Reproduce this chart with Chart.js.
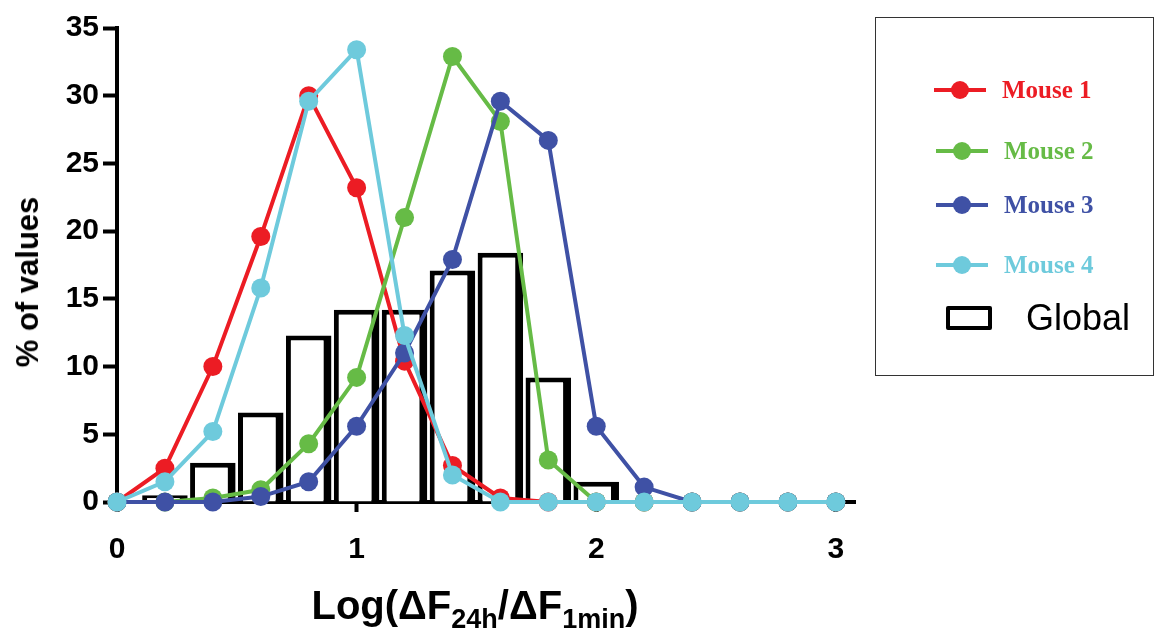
<!DOCTYPE html>
<html>
<head>
<meta charset="utf-8">
<title>% of values</title>
<script src="https://cdn.jsdelivr.net/npm/chart.js@4.4.1/dist/chart.umd.min.js"></script>
<style>
    body { margin: 0; background: #fff; }
    #wrap { position: relative; width: 1154px; height: 632px; overflow: hidden; }
    #grafico { position: absolute; left: 0; top: 0; }
    #legenda {
        position: absolute; left: 875px; top: 17px; width: 279px; height: 359px;
        border: 1px solid #333; box-sizing: border-box;
    }
    .item { position: absolute; height: 30px; display: flex; align-items: center; }
    .amostra { position: relative; width: 52px; height: 30px; }
    .amostra .linha { position: absolute; left: 0; top: 13px; width: 52px; height: 4px; }
    .amostra .ponto { position: absolute; left: 17px; top: 6px; width: 18px; height: 18px; border-radius: 50%; }
    .item .nome {
        font-family: "Liberation Serif", serif; font-weight: bold; font-size: 25px;
        margin-left: 16px; white-space: nowrap;
    }
    #itemGlobal { left: 70px; top: 285px; }
    #itemGlobal .caixa { width: 38px; height: 16px; border: 4px solid #000; border-radius: 2px; }
    #itemGlobal .nome {
        font-family: "Liberation Sans", Arial, sans-serif; font-weight: normal; font-size: 36px;
        color: #000; margin-left: 34px;
    }
    #tituloX {
        position: absolute; left: 0; top: 582px; width: 950px; text-align: center;
        font-family: "Liberation Sans", Arial, sans-serif; font-weight: bold; font-size: 40px;
        line-height: 46px; color: #000;
    }
    #tituloX sub { font-size: 27px; vertical-align: -9px; line-height: 0; }
    #tituloY {
        position: absolute; left: 28px; top: 282px; width: 0; height: 0;
    }
    #tituloY span {
        position: absolute; left: 0; top: 0; transform: translate(-50%, -50%) rotate(-90deg);
        font-family: "Liberation Sans", Arial, sans-serif; font-weight: bold; font-size: 31px;
        white-space: nowrap; color: #000;
    }
</style>
</head>
<body>
<div id="wrap">
    <canvas id="grafico" width="1154" height="632"></canvas>
    <div id="legenda"></div>
    <div id="tituloY"><span>% of values</span></div>
    <div id="tituloX">Log(&Delta;F<sub>24h</sub>/&Delta;F<sub>1min</sub>)</div>
</div>
<script>
// dados
const valoresX = [0, 0.2, 0.4, 0.6, 0.8, 1.0, 1.2, 1.4, 1.6, 1.8, 2.0, 2.2, 2.4, 2.6, 2.8, 3.0];
const mouse1 = [0, 2.5, 10.0, 19.6, 30.0, 23.2, 10.4, 2.7, 0.3, 0, 0, 0, 0, 0, 0, 0];
const mouse2 = [0, 0, 0.3, 0.9, 4.3, 9.2, 21.0, 32.9, 28.1, 3.1, 0, 0, 0, 0, 0, 0];
const mouse3 = [0, 0, 0, 0.4, 1.5, 5.6, 11.0, 17.9, 29.6, 26.7, 5.6, 1.1, 0, 0, 0, 0];
const mouse4 = [0, 1.5, 5.2, 15.8, 29.6, 33.4, 12.3, 2.0, 0, 0, 0, 0, 0, 0, 0, 0];
const globalValores = [0, 0.5, 2.9, 6.6, 12.3, 14.2, 14.2, 17.1, 18.4, 9.2, 1.5, 0, 0, 0, 0, 0];

const nomesSeries = ["Mouse 1", "Mouse 2", "Mouse 3", "Mouse 4"];
const coresSeries = ["#ec1c24", "#66bb46", "#3f51a5", "#6ecadc"];
const ticksY = [0, 5, 10, 15, 20, 25, 30, 35];
const ticksX = [0, 1, 2, 3];

const fonteEixo = { family: "'Liberation Sans', Arial, sans-serif", weight: "bold", size: 30 };

function pontos(valores) {
    return valoresX.map((x, i) => ({ x: x, y: valores[i] }));
}

const seriesMouse = [mouse1, mouse2, mouse3, mouse4].map((valores, i) => ({
    type: "line",
    label: nomesSeries[i],
    data: pontos(valores),
    borderColor: coresSeries[i],
    backgroundColor: coresSeries[i],
    borderWidth: 4,
    pointRadius: 9.5,
    pointBorderWidth: 0,
    pointBackgroundColor: coresSeries[i],
    tension: 0,
    clip: false,
    order: 4 - i
}));

const serieGlobal = {
    type: "bar",
    label: "Global",
    data: pontos(globalValores),
    backgroundColor: "#fff",
    borderColor: "#000",
    borderWidth: { top: 5, left: 5, right: 8, bottom: 0 },
    borderSkipped: "start",
    barPercentage: 0.95,
    categoryPercentage: 1,
    order: 10
};

new Chart(document.getElementById("grafico"), {
    type: "bar",
    data: { datasets: [...seriesMouse, serieGlobal] },
    options: {
        responsive: false,
        animation: false,
        layout: { padding: { left: 0, top: 28, right: 299, bottom: 62 } },
        plugins: { legend: { display: false }, tooltip: { enabled: false } },
        scales: {
            x: {
                type: "linear",
                min: 0,
                max: 3.08,
                offset: false,
                afterBuildTicks: scale => { scale.ticks = ticksX.map(v => ({ value: v })); },
                afterFit: scale => { scale.height = 68; },
                border: { display: true, color: "#000", width: 4 },
                grid: { offset: false, drawOnChartArea: false, drawTicks: true, tickLength: 10, tickWidth: 4, tickColor: "#000" },
                ticks: { color: "#000", font: fonteEixo, padding: 20, maxRotation: 0 }
            },
            y: {
                type: "linear",
                min: 0,
                max: 35,
                afterBuildTicks: scale => { scale.ticks = ticksY.map(v => ({ value: v })); },
                afterFit: scale => { scale.width = 117; },
                border: { display: true, color: "#000", width: 4 },
                grid: { drawOnChartArea: false, drawTicks: true, tickLength: 14, tickWidth: 4, tickColor: "#000" },
                ticks: { color: "#000", font: fonteEixo, padding: 4 }
            }
        }
    }
});

// legenda em html, montada a partir das séries
const legenda = document.getElementById("legenda");
const topos = [57, 118, 172, 232];
const esquerdas = [58, 60, 60, 60];
nomesSeries.forEach((nome, i) => {
    const item = document.createElement("div");
    item.className = "item";
    item.style.left = esquerdas[i] + "px";
    item.style.top = topos[i] + "px";
    item.innerHTML = `
        <div class="amostra">
            <div class="linha" style="background:${coresSeries[i]}"></div>
            <div class="ponto" style="background:${coresSeries[i]}"></div>
        </div>
        <span class="nome" style="color:${coresSeries[i]}">${nome}</span>
    `;
    legenda.appendChild(item);
});
const itemGlobal = document.createElement("div");
itemGlobal.className = "item";
itemGlobal.id = "itemGlobal";
itemGlobal.innerHTML = `<div class="caixa"></div><span class="nome">Global</span>`;
legenda.appendChild(itemGlobal);
</script>
</body>
</html>
